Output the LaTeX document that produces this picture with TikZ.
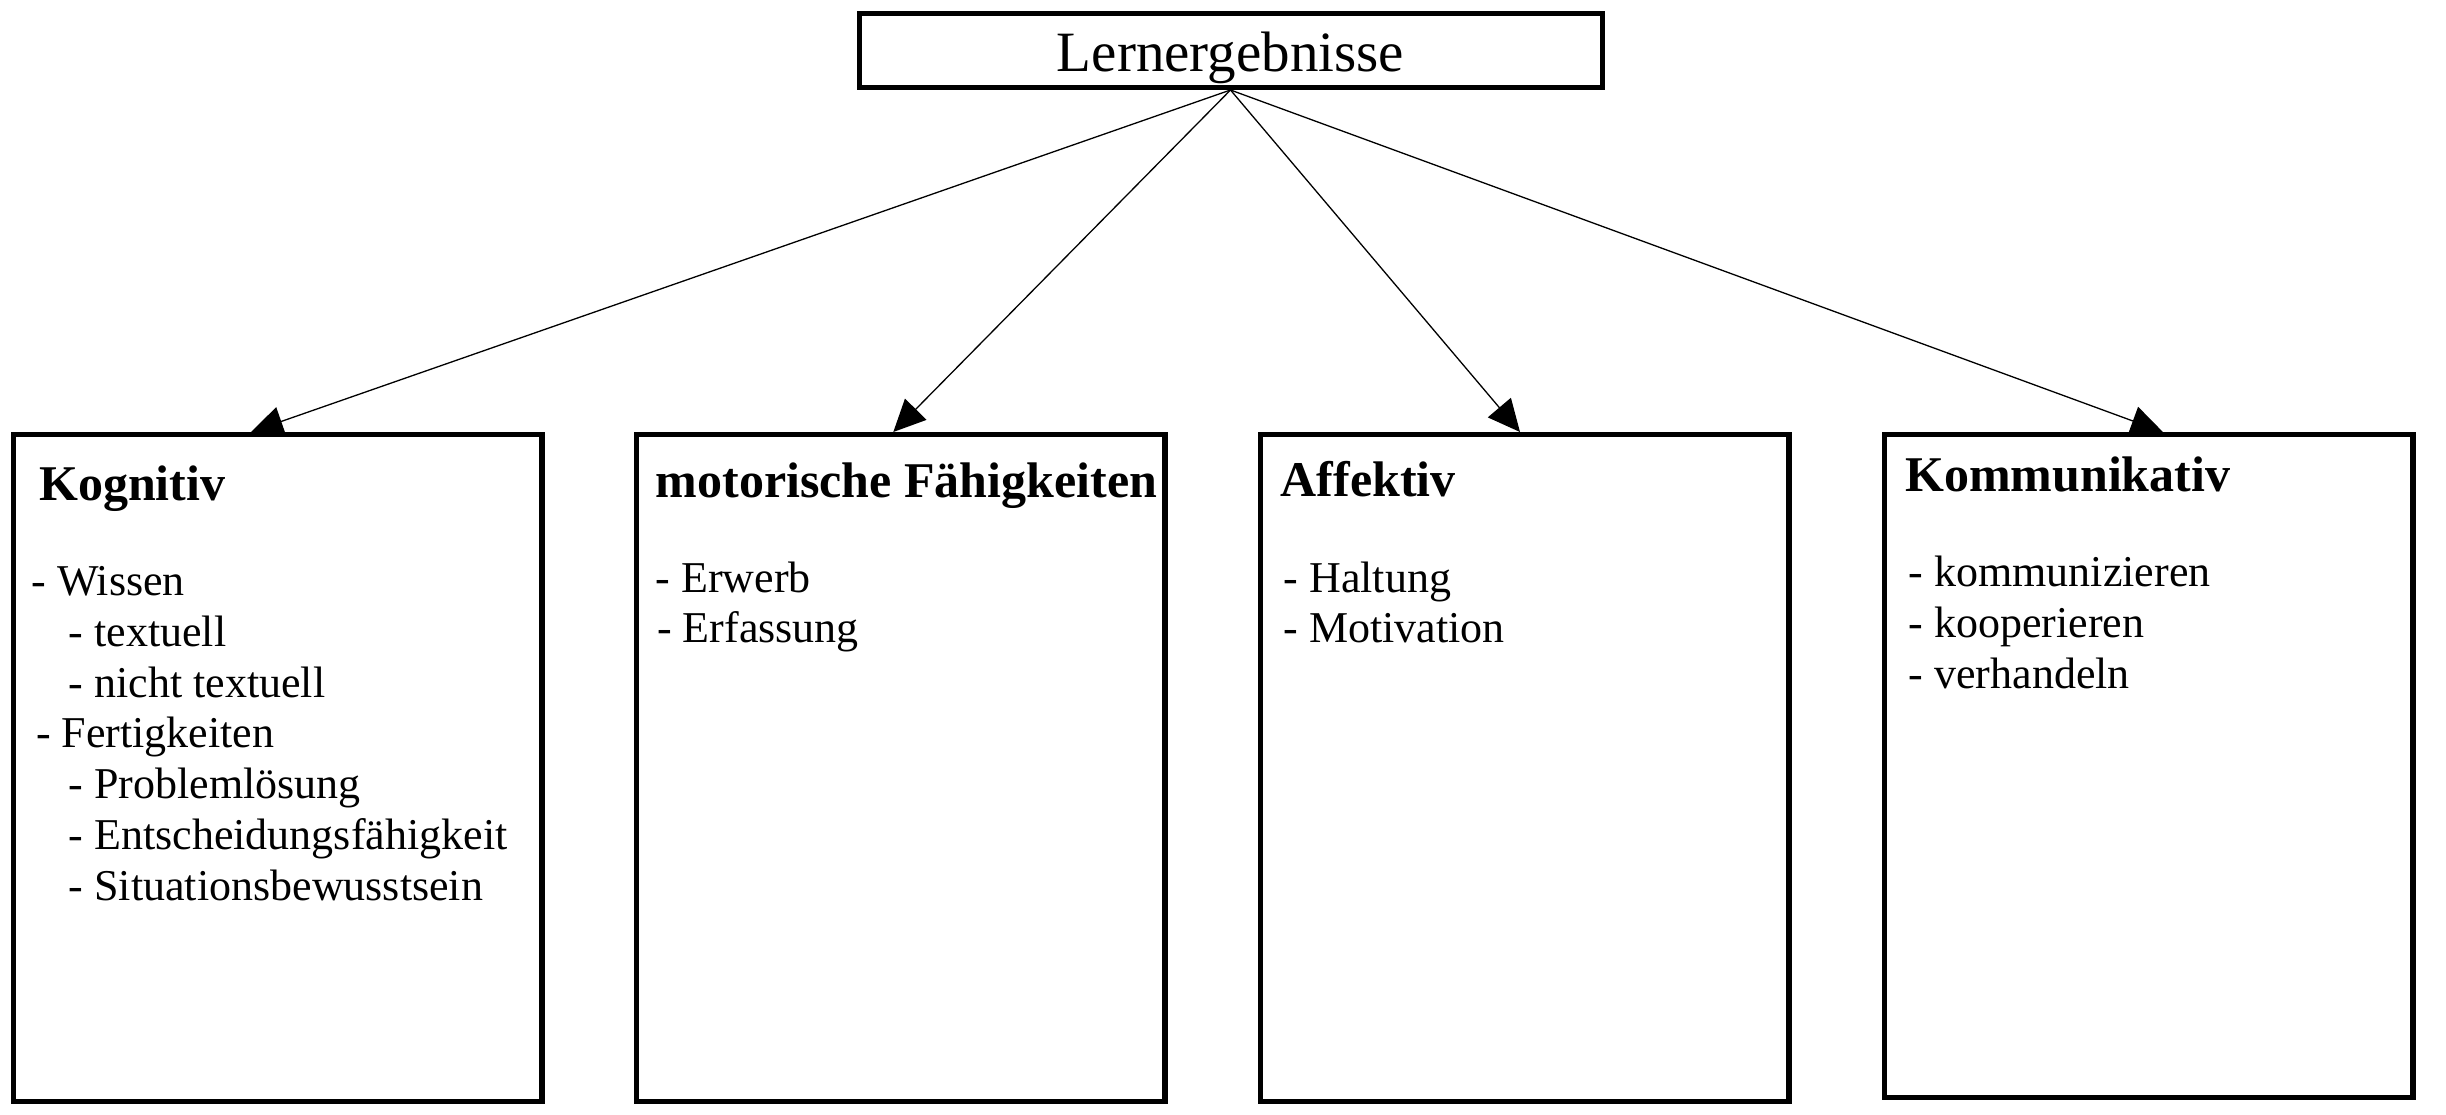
\documentclass[tikz,border=0pt]{standalone}
\usepackage{fontspec}
\setmainfont{Liberation Serif}
\usetikzlibrary{arrows.meta}
\begin{document}
\begin{tikzpicture}[x=1pt,y=-1pt,
  catbox/.style={draw, line width=5.4pt, minimum width=528.5pt, minimum height=667pt, inner sep=0pt},
  titlebox/.style={draw, line width=5pt, minimum width=743pt, minimum height=74pt, inner sep=0pt,
    text height=41pt, text depth=0pt, font=\fontsize{57}{64}\selectfont},
  head/.style={anchor=base west, inner sep=0pt, font=\fontsize{50}{58}\selectfont\bfseries},
  item/.style={anchor=base west, inner sep=0pt, font=\fontsize{44}{51}\selectfont},
  arr/.style={line width=1.3pt, -{Triangle[length=32pt, width=30pt]}}]
\useasboundingbox (0,0) rectangle (2446,1114);

\node[titlebox] (top) at (1230.5,50.5) {Lernergebnisse};

\node[catbox] (k1) at (277.6,768.2) {};
\node[catbox] (k2) at (900.9,768.2) {};
\node[catbox] (k3) at (1524.9,768.2) {};
\node[catbox, minimum height=663pt] (k4) at (2148.9,766.2) {};

% Box 1
\node[head] (h1) at (39,500.8) {Kognitiv};
\node[item] (a1) at (31.2,595.9) {- Wissen};
\node[item] (a2) at (68.6,646) {- textuell};
\node[item] (a3) at (68.6,697) {- nicht textuell};
\node[item] (a4) at (35.9,747.5) {- Fertigkeiten};
\node[item] (a5) at (68.6,798.5) {- Problemlösung};
\node[item] (a6) at (68.6,849) {- Entscheidungsfähigkeit};
\node[item] (a7) at (68.6,900) {- Situationsbewusstsein};

% Box 2
\node[head] (h2) at (655.5,497) {motorische Fähigkeiten};
\node[item] (b1) at (655.5,592.7) {- Erwerb};
\node[item] (b2) at (657,642.5) {- Erfassung};

% Box 3
\node[head] (h3) at (1280.4,496.7) {Affektiv};
\node[item] (c1) at (1283.5,592.7) {- Haltung};
\node[item] (c2) at (1283.5,642.5) {- Motivation};

% Box 4
\node[head] (h4) at (1905,491.7) {Kommunikativ};
\node[item] (d1) at (1908.5,586.7) {- kommunizieren};
\node[item] (d2) at (1908.5,637.5) {- kooperieren};
\node[item] (d3) at (1908.5,688.3) {- verhandeln};

% Connectors
\draw[arr] (top.south) -- ([xshift=-26.6pt]k1.north);
\draw[arr] (top.south) -- ([xshift=-7.6pt]k2.north);
\draw[arr] (top.south) -- ([xshift=-4.9pt]k3.north);
\draw[arr] (top.south) -- ([xshift=14pt]k4.north);
\end{tikzpicture}
\end{document}
